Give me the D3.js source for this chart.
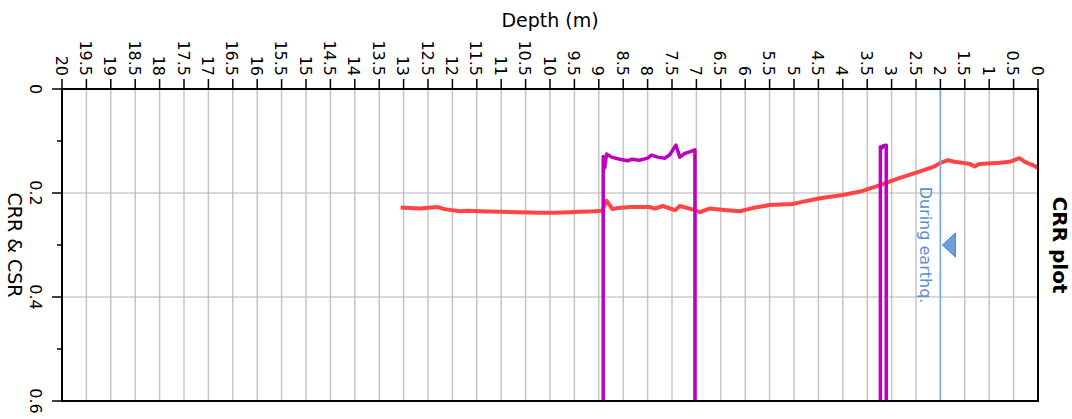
<!DOCTYPE html>
<html>
<head>
<meta charset="utf-8">
<script src="https://cdn.jsdelivr.net/npm/d3@7"></script>
<style>
  body { margin: 0; background: #fff; }
  text { font-family: "DejaVu Sans", Verdana, sans-serif; }
</style>
</head>
<body>
<svg id="chart" width="1072" height="419"></svg>
<script>
// CRR curve (red)
var crrDepth = [13.06, 12.88, 12.67, 12.30, 12.16, 11.85, 11.69, 11.44, 11.03, 10.62, 10.21, 9.90, 9.60, 9.39, 9.09, 8.93,
    8.84, 8.78, 8.72, 8.61, 8.33, 7.96, 7.85, 7.69, 7.44, 7.34, 7.03, 6.93, 6.73, 6.38, 6.11, 5.85, 5.50, 5.03, 4.83,
    4.47, 4.00, 3.59, 3.24, 2.83, 2.43, 2.12, 2.02, 1.85, 1.71, 1.40, 1.30, 1.20, 0.78, 0.58, 0.38, 0.27, 0.07, 0.0];
var crrValue = [0.228, 0.229, 0.230, 0.227, 0.231, 0.235, 0.234, 0.235, 0.236, 0.237, 0.238, 0.238, 0.237, 0.236, 0.235, 0.234,
    0.215, 0.223, 0.231, 0.229, 0.227, 0.227, 0.230, 0.225, 0.233, 0.225, 0.233, 0.237, 0.230, 0.233, 0.235, 0.229, 0.223, 0.221, 0.217,
    0.210, 0.204, 0.196, 0.185, 0.171, 0.159, 0.149, 0.143, 0.137, 0.140, 0.144, 0.149, 0.144, 0.142, 0.140, 0.133, 0.140, 0.148, 0.152];

// CSR segments (purple), values at 0.6 run off the bottom of the plot
var csrDepthA = [8.91, 8.91, 8.88, 8.84, 8.74, 8.57, 8.41, 8.31, 8.17, 8.00, 7.92, 7.79, 7.65, 7.55, 7.42, 7.34, 7.24, 7.14, 7.03, 7.03];
var csrValueA = [0.6, 0.130, 0.152, 0.125, 0.131, 0.135, 0.138, 0.135, 0.137, 0.133, 0.127, 0.131, 0.133, 0.127, 0.108, 0.131, 0.124, 0.121, 0.117, 0.6];
var csrDepthB = [3.23, 3.23, 3.19, 3.17, 3.11, 3.11];
var csrValueB = [0.6, 0.111, 0.113, 0.109, 0.108, 0.6];

var depthTicks = d3.range(0, 20.01, 0.5);
var valueTicks = [0, 0.2, 0.4, 0.6];
var valueMinorTicks = [0.1, 0.3, 0.5];
var quakeDepth = 2;
var quakeLabel = "During earthq.";

var margin = {left: 62, top: 89, right: 34, bottom: 18};
var W = 1072, H = 419;
var svg = d3.select('#chart');

var xs = d3.scaleLinear().domain([20, 0]).range([margin.left, W - margin.right]);
var ys = d3.scaleLinear().domain([0, 0.6]).range([margin.top, H - margin.bottom]);

// clip
svg.append('clipPath').attr('id', 'plotclip').append('rect')
    .attr('x', xs(20)).attr('y', ys(0))
    .attr('width', xs(0) - xs(20)).attr('height', ys(0.6) - ys(0));

// grid
var grid = svg.append('g');
grid.selectAll('line.v').data(depthTicks.filter(function (d) { return d > 0 && d < 20; }))
    .enter().append('line')
    .attr('x1', xs).attr('x2', xs)
    .attr('y1', ys(0)).attr('y2', ys(0.6))
    .style('stroke', '#c6c6c6').style('stroke-width', 1.5);
grid.selectAll('line.h').data([0.2, 0.4])
    .enter().append('line')
    .attr('x1', xs(20)).attr('x2', xs(0))
    .attr('y1', ys).attr('y2', ys)
    .style('stroke', '#b4b4b4').style('stroke-width', 1.2);

// series
var plot = svg.append('g').attr('clip-path', 'url(#plotclip)');

function pairs(ds, vs) {
    return ds.map(function (d, i) { return [d, vs[i]]; });
}
var line = d3.line()
    .x(function (p) { return xs(p[0]); })
    .y(function (p) { return ys(p[1]); });

plot.append('path').datum(pairs(crrDepth, crrValue))
    .attr('d', line)
    .style('fill', 'none').style('stroke', '#ff4444').style('stroke-width', 4)
    .style('stroke-linejoin', 'round');

[pairs(csrDepthA, csrValueA), pairs(csrDepthB, csrValueB)].forEach(function (seg) {
    plot.append('path').datum(seg)
        .attr('d', line)
        .style('fill', 'none').style('stroke', '#bf00bf').style('stroke-width', 3.5)
        .style('stroke-linejoin', 'round');
});

// earthquake marker line
svg.append('line')
    .attr('x1', xs(quakeDepth)).attr('x2', xs(quakeDepth))
    .attr('y1', ys(0)).attr('y2', ys(0.6))
    .style('stroke', '#7aa8e2').style('stroke-width', 1.5);
svg.append('text')
    .attr('transform', 'translate(' + (xs(quakeDepth) - 15) + ',' + ys(0.3) + ') rotate(90)')
    .attr('text-anchor', 'middle').attr('dominant-baseline', 'central')
    .style('font-size', '16px').style('fill', '#5b8fd6')
    .text(quakeLabel);
var tx = xs(quakeDepth) + 2, ty = ys(0.3);
svg.append('path')
    .attr('d', 'M' + tx + ',' + ty + 'L' + (tx + 13) + ',' + (ty - 12) + 'L' + (tx + 13) + ',' + (ty + 12) + 'Z')
    .style('fill', '#6e9fdc').style('stroke', '#4b7fc4').style('stroke-width', 1);

// frame
svg.append('rect')
    .attr('x', xs(20)).attr('y', ys(0))
    .attr('width', xs(0) - xs(20)).attr('height', ys(0.6) - ys(0))
    .style('fill', 'none').style('stroke', '#000').style('stroke-width', 2);

// top axis (depth)
var topAxis = svg.append('g');
topAxis.selectAll('line').data(depthTicks).enter().append('line')
    .attr('x1', xs).attr('x2', xs)
    .attr('y1', ys(0)).attr('y2', ys(0) - 10)
    .style('stroke', '#000').style('stroke-width', 1.5);
topAxis.selectAll('text').data(depthTicks).enter().append('text')
    .attr('transform', function (d) { return 'translate(' + (xs(d) - 1) + ',' + (ys(0) - 13) + ') rotate(90)'; })
    .attr('text-anchor', 'end').attr('dominant-baseline', 'central')
    .style('font-size', '16px').style('fill', '#000')
    .text(function (d) { return d3.format('~g')(d); });
svg.append('text')
    .attr('x', (xs(20) + xs(0)) / 2).attr('y', 27)
    .attr('text-anchor', 'middle')
    .style('font-size', '19px').style('fill', '#000')
    .text('Depth (m)');

// left axis (CRR & CSR)
var leftAxis = svg.append('g');
leftAxis.selectAll('line.major').data(valueTicks).enter().append('line')
    .attr('x1', xs(20) - 10).attr('x2', xs(20))
    .attr('y1', ys).attr('y2', ys)
    .style('stroke', '#000').style('stroke-width', 1.5);
leftAxis.selectAll('line.minor').data(valueMinorTicks).enter().append('line')
    .attr('x1', xs(20) - 5).attr('x2', xs(20))
    .attr('y1', ys).attr('y2', ys)
    .style('stroke', '#000').style('stroke-width', 1.5);
leftAxis.selectAll('text').data(valueTicks).enter().append('text')
    .attr('transform', function (d) { return 'translate(35,' + ys(d) + ') rotate(90)'; })
    .attr('text-anchor', 'middle').attr('dominant-baseline', 'central')
    .style('font-size', '16px').style('fill', '#000')
    .text(function (d) { return d3.format('~g')(d); });
svg.append('text')
    .attr('transform', 'translate(15,' + ys(0.3) + ') rotate(90)')
    .attr('text-anchor', 'middle').attr('dominant-baseline', 'central')
    .style('font-size', '19px').style('fill', '#000')
    .text('CRR & CSR');

// title
svg.append('text')
    .attr('transform', 'translate(1060,' + ys(0.3) + ') rotate(90)')
    .attr('text-anchor', 'middle').attr('dominant-baseline', 'central')
    .style('font-size', '20px').style('font-weight', 'bold').style('fill', '#000')
    .text('CRR plot');
</script>
</body>
</html>
